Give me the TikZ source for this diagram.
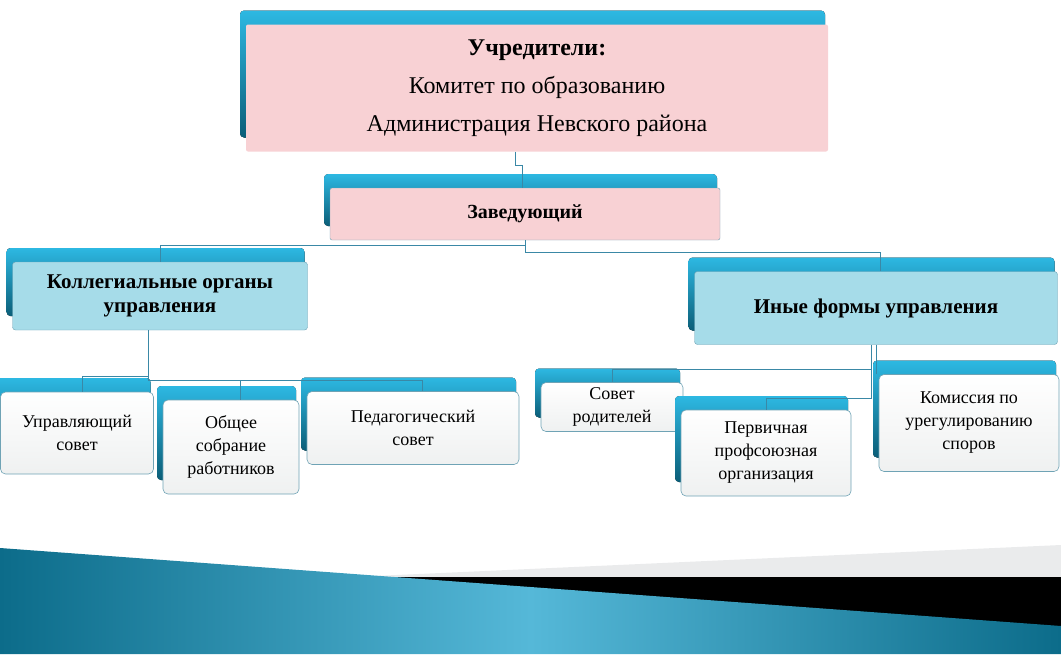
\documentclass[tikz,border=0pt]{standalone}
\usepackage{fontspec}
\setmainfont{Liberation Serif}
\usetikzlibrary{positioning}
\definecolor{tabtop}{HTML}{2DB8E2}
\definecolor{tabbot}{HTML}{0B5E78}
\definecolor{pinkbox}{HTML}{F8D1D4}
\definecolor{bluebox}{HTML}{A6DCE9}
\definecolor{cardline}{HTML}{6FA3B5}
\definecolor{linkcol}{HTML}{3A88A6}
\definecolor{seadark}{HTML}{0C6C8A}
\definecolor{sealight}{HTML}{55B8D8}

% tab behind the box, then the box itself
\newcommand{\card}[7]{%
  \fill[tab] ({#3-#5/2-6},{#4-#6/2-14}) rectangle ({#3+#5/2-3},{#4+#6/2-14});
  \node[#2, minimum width=#5pt, minimum height=#6pt] (#1) at (#3,#4) {#7};}

\begin{document}
\begin{tikzpicture}[x=1pt, y=-1pt,
  tab/.style={top color=tabtop, bottom color=tabbot, rounded corners=4pt},
  pinkcard/.style={fill=pinkbox, draw=cardline, line width=0.4pt, inner sep=2pt, align=center, rounded corners=2pt},
  bluecard/.style={fill=bluebox, draw=cardline, line width=0.4pt, align=center, rounded corners=3pt, font=\fontsize{21}{24}\selectfont\bfseries},
  smallcard/.style={top color=white, bottom color=cyan!6!gray!12, draw=cardline, line width=0.6pt, align=center, rounded corners=5pt, font=\fontsize{18}{23}\selectfont},
  link/.style={draw=linkcol, line width=0.8pt}]
\useasboundingbox (0,0) rectangle (1061,654);

% bottom band
\fill[cyan!5!gray!18] (330,578) -- (1061,545) -- (1061,578) -- cycle;
\fill[black] (330,577) rectangle (1061,630);
\shade[left color=seadark, right color=seadark, middle color=sealight] (0,548) -- (1061,626) -- (1061,654) -- (0,654) -- cycle;

% boxes
\card{top}{pinkcard, draw=none, font=\fontsize{24}{38}\selectfont}{537}{88}{582}{127}{\textbf{Учредители:}\\Комитет по образованию\\Администрация Невского района}
\card{head}{pinkcard, font=\fontsize{20}{24}\selectfont\bfseries}{525}{214}{390}{52}{Заведующий}
\card{coll}{bluecard}{160}{296}{295}{68}{Коллегиальные органы\\управления}
\card{other}{bluecard}{876}{308}{363}{73}{Иные формы управления}
\card{board}{smallcard}{77}{433}{153}{82}{Управляющий\\совет}
\card{staff}{smallcard}{231}{447}{136}{94}{Общее\\собрание\\работников}
\card{teach}{smallcard}{413}{428}{212}{73}{Педагогический\\совет}
\card{parents}{smallcard}{612}{407}{142}{49}{Совет\\родителей}
\card{union}{smallcard}{766}{453}{170}{86}{Первичная\\профсоюзная\\организация}
\card{disputes}{smallcard}{969}{423}{180}{97}{Комиссия по\\урегулированию\\споров}

% connectors
\coordinate (ta) at (515,165);
\draw[link] (top.south -| ta) -- (ta) -- ++(7,0) -- (head.north -| 522,0);
\draw[link] (head.south) -- ++(0,5) -| (coll.north -| 160,0);
\draw[link] (head.south) -- ++(0,12) -| (other.north -| 880,0);
\draw[link] (coll.south -| 148,0) -- (148,376) -| (board.north -| 82,0);
\draw[link] (148,376) -- (148,380) -| (staff.north -| 240,0);
\draw[link] (148,380) -| (teach.north -| 422,0);
\draw[link] (other.south -| 871,0) -- (871,369) -| (parents.north);
\draw[link] (871,369) -- (871,398) -| (union.north);
\draw[link] (other.south -| 876,0) -- (disputes.north -| 876,0);
\end{tikzpicture}
\end{document}
